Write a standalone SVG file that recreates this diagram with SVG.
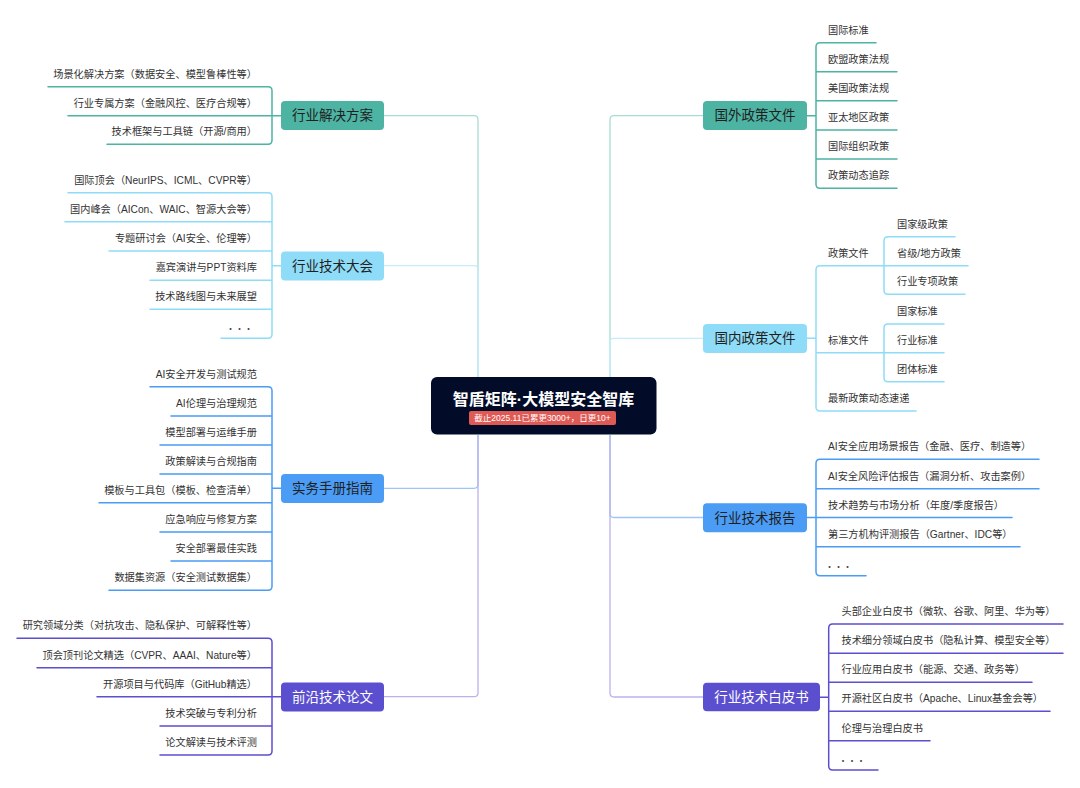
<svg xmlns="http://www.w3.org/2000/svg" width="1080" height="788" viewBox="0 0 1080 788">
<style>
text{font-family:"Liberation Sans","Noto Sans CJK SC",sans-serif}
.leaf{font-size:10.2px;fill:#333}
.le{text-anchor:end}
.nt{font-size:13.5px;text-anchor:middle;fill:#1f1f1f}
.nw{fill:#fff}
.dots{font-family:"Noto Sans CJK SC",sans-serif;font-size:9px;fill:#444}
.ln{fill:none;stroke-width:1.5;stroke-linecap:round;stroke-linejoin:round}
.tr{fill:none;stroke-width:1.3}
.teal{stroke:#4DB3A2}.lb{stroke:#8EDCF7}.bl{stroke:#4A9CF5}.pu{stroke:#5B4FCF}
</style>
<rect width="1080" height="788" fill="#fff"/>
<g id="connectors">
<path class="tr" stroke="#A8DCD4" d="M384,115.7 H474 Q478,115.7 478,119.7 V377"/>
<path class="tr" stroke="#C4ECFA" d="M384,265.7 H474 Q478,265.7 478,269.7 V377"/>
<path class="tr" stroke="#9CC6F8" d="M384,488.3 H474 Q478,488.3 478,484.3 V435"/>
<path class="tr" stroke="#B9B2EE" d="M384,696.7 H474 Q478,696.7 478,692.7 V435"/>
<path class="tr" stroke="#A8DCD4" d="M703,115.7 H614 Q610,115.7 610,119.7 V377"/>
<path class="tr" stroke="#C4ECFA" d="M703,338.3 H614 Q610,338.3 610,342.3 V377"/>
<path class="tr" stroke="#9CC6F8" d="M703,517.5 H614 Q610,517.5 610,513.5 V435"/>
<path class="tr" stroke="#B9B2EE" d="M703,697 H614 Q610,697 610,693 V435"/>
<path class="ln teal" d="M48,86.7 H268 Q272,86.7 272,90.7 V140.3 Q272,144.3 268,144.3 H107 M68,115.7 H281"/>
<path class="ln lb" d="M68,192.7 H268 Q272,192.7 272,196.7 V334.3 Q272,338.3 268,338.3 H221 M65,221.7 H272 M109,251 H272 M150,280.3 H272 M150,309.3 H272 M272,265.7 H281"/>
<path class="ln bl" d="M150,386.7 H268 Q272,386.7 272,390.7 V586.3 Q272,590.3 268,590.3 H109 M171,416 H272 M160,445 H272 M160,474 H272 M99,502.7 H272 M160,532 H272 M171,561 H272 M272,488.3 H281"/>
<path class="ln pu" d="M17,638.3 H268 Q272,638.3 272,642.3 V751 Q272,755 268,755 H160 M37,667.7 H272 M97,696.7 H281 M160,726 H272"/>
<path class="ln teal" d="M876,42.7 H820 Q816,42.7 816,46.7 V184.3 Q816,188.3 820,188.3 H897 M816,71.7 H897 M816,100.7 H897 M816,130 H897 M816,159 H897 M807,115.7 H816"/>
<path class="ln lb" d="M968,265.7 H820 Q816,265.7 816,269.7 V407 Q816,411 820,411 H916 M816,352.7 H944 M807,338.3 H816"/>
<path class="ln lb" d="M955,236.7 H888 Q884,236.7 884,240.7 V290.3 Q884,294.3 888,294.3 H965"/>
<path class="ln lb" d="M944,324 H888 Q884,324 884,328 V377.7 Q884,381.7 888,381.7 H944"/>
<path class="ln bl" d="M1039,459.3 H820 Q816,459.3 816,463.3 V571.7 Q816,575.7 820,575.7 H866 M816,488.7 H1039 M807,517.5 H1012 M816,546.7 H1020"/>
<path class="ln pu" d="M1063,624 H832.7 Q828.7,624 828.7,628 V766 Q828.7,770 832.7,770 H878 M828.7,653.3 H1063 M828.7,682.3 H1032 M828.7,711.3 H1050 M828.7,740.7 H930 M820,697.3 H828.7"/>
</g>
<g id="center">
<rect x="431" y="377" width="225.5" height="57.5" rx="6" fill="#020C28"/>
<text x="543.5" y="405" font-size="16" font-weight="bold" fill="#fff" text-anchor="middle">智盾矩阵·大模型安全智库</text>
<rect x="469" y="411" width="147" height="14" rx="2" fill="#E05A55"/>
<text x="542.5" y="421.2" font-size="8.5" fill="#fff" text-anchor="middle">截止2025.11已累更3000+，日更10+</text>
</g>
<g id="n-solution">
<rect x="281" y="101" width="103" height="29" rx="4" fill="#4DB3A2"/>
<text class="nt" x="332.5" y="120.3">行业解决方案</text>
<text class="leaf le" x="257" y="77.7">场景化解决方案（数据安全、模型鲁棒性等）</text>
<text class="leaf le" x="257" y="106.7">行业专属方案（金融风控、医疗合规等）</text>
<text class="leaf le" x="257" y="135.3">技术框架与工具链（开源/商用）</text>
</g>
<g id="n-conference">
<rect x="281" y="251.5" width="103" height="29" rx="4" fill="#8EDCF7"/>
<text class="nt" x="332.5" y="270.8">行业技术大会</text>
<text class="leaf le" x="257" y="183.7">国际顶会（NeurIPS、ICML、CVPR等）</text>
<text class="leaf le" x="257" y="212.7">国内峰会（AICon、WAIC、智源大会等）</text>
<text class="leaf le" x="257" y="242">专题研讨会（AI安全、伦理等）</text>
<text class="leaf le" x="257" y="271.3">嘉宾演讲与PPT资料库</text>
<text class="leaf le" x="257" y="300.3">技术路线图与未来展望</text>
<text class="dots le" x="253" y="332">・・・</text>
</g>
<g id="n-handbook">
<rect x="281" y="474" width="103" height="29" rx="4" fill="#4A9CF5"/>
<text class="nt" x="332.5" y="493.3">实务手册指南</text>
<text class="leaf le" x="257" y="377.7">AI安全开发与测试规范</text>
<text class="leaf le" x="257" y="407">AI伦理与治理规范</text>
<text class="leaf le" x="257" y="436">模型部署与运维手册</text>
<text class="leaf le" x="257" y="465">政策解读与合规指南</text>
<text class="leaf le" x="257" y="493.7">模板与工具包（模板、检查清单）</text>
<text class="leaf le" x="257" y="523">应急响应与修复方案</text>
<text class="leaf le" x="257" y="552">安全部署最佳实践</text>
<text class="leaf le" x="257" y="581.3">数据集资源（安全测试数据集）</text>
</g>
<g id="n-papers">
<rect x="281" y="682.5" width="103" height="29" rx="4" fill="#5B4FCF"/>
<text class="nt nw" x="332.5" y="701.8">前沿技术论文</text>
<text class="leaf le" x="257" y="629.3">研究领域分类（对抗攻击、隐私保护、可解释性等）</text>
<text class="leaf le" x="257" y="658.7">顶会顶刊论文精选（CVPR、AAAI、Nature等）</text>
<text class="leaf le" x="257" y="687.7">开源项目与代码库（GitHub精选）</text>
<text class="leaf le" x="257" y="717">技术突破与专利分析</text>
<text class="leaf le" x="257" y="746">论文解读与技术评测</text>
</g>
<g id="n-foreign">
<rect x="703" y="101" width="104" height="29" rx="4" fill="#4DB3A2"/>
<text class="nt" x="755" y="120.3">国外政策文件</text>
<text class="leaf" x="828" y="33.7">国际标准</text>
<text class="leaf" x="828" y="62.7">欧盟政策法规</text>
<text class="leaf" x="828" y="91.7">美国政策法规</text>
<text class="leaf" x="828" y="121">亚太地区政策</text>
<text class="leaf" x="828" y="150">国际组织政策</text>
<text class="leaf" x="828" y="179.3">政策动态追踪</text>
</g>
<g id="n-domestic">
<rect x="703" y="324" width="104" height="29" rx="4" fill="#8EDCF7"/>
<text class="nt" x="755" y="343.3">国内政策文件</text>
<text class="leaf" x="828" y="256.7">政策文件</text>
<text class="leaf" x="828" y="343.7">标准文件</text>
<text class="leaf" x="828" y="402">最新政策动态速递</text>
<text class="leaf" x="897" y="227.7">国家级政策</text>
<text class="leaf" x="897" y="256.7">省级/地方政策</text>
<text class="leaf" x="897" y="285.3">行业专项政策</text>
<text class="leaf" x="897" y="315">国家标准</text>
<text class="leaf" x="897" y="343.7">行业标准</text>
<text class="leaf" x="897" y="372.7">团体标准</text>
</g>
<g id="n-report">
<rect x="703" y="503.3" width="104" height="29" rx="4" fill="#4A9CF5"/>
<text class="nt" x="755" y="522.6">行业技术报告</text>
<text class="leaf" x="828" y="450.3">AI安全应用场景报告（金融、医疗、制造等）</text>
<text class="leaf" x="828" y="479.7">AI安全风险评估报告（漏洞分析、攻击案例）</text>
<text class="leaf" x="828" y="508.7">技术趋势与市场分析（年度/季度报告）</text>
<text class="leaf" x="828" y="537.7">第三方机构评测报告（Gartner、IDC等）</text>
<text class="dots" x="825" y="569.5">・・・</text>
</g>
<g id="n-whitepaper">
<rect x="703" y="682.7" width="117" height="28.5" rx="4" fill="#5B4FCF"/>
<text class="nt nw" x="761.5" y="701.8">行业技术白皮书</text>
<text class="leaf" x="841.5" y="615">头部企业白皮书（微软、谷歌、阿里、华为等）</text>
<text class="leaf" x="841.5" y="644.3">技术细分领域白皮书（隐私计算、模型安全等）</text>
<text class="leaf" x="841.5" y="673.3">行业应用白皮书（能源、交通、政务等）</text>
<text class="leaf" x="841.5" y="702.3">开源社区白皮书（Apache、Linux基金会等）</text>
<text class="leaf" x="841.5" y="731.7">伦理与治理白皮书</text>
<text class="dots" x="838.5" y="764">・・・</text>
</g>
</svg>
